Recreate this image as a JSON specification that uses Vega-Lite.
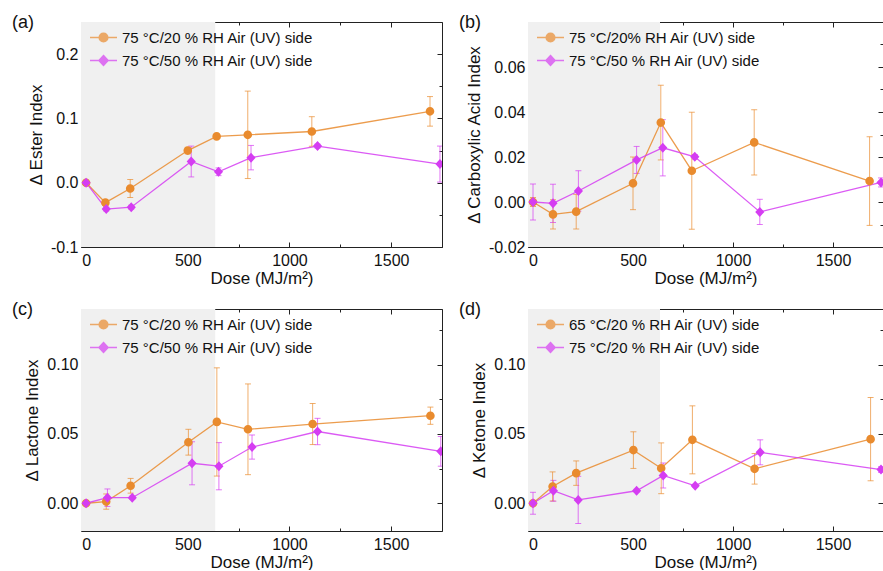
{
  "$schema": "https://vega.github.io/schema/vega-lite/v6.json",
  "padding": {"left": 12, "top": 13, "right": 0, "bottom": 0},
  "background": "white",
  "datasets": {
    "shade": [{"x0": -25, "x1": 635}],
    "a": [
      {"dose": 0, "value": 0, "err": 0, "series": "75 °C/20 % RH Air (UV) side"},
      {"dose": 95, "value": -0.031, "err": 0.004, "series": "75 °C/20 % RH Air (UV) side"},
      {"dose": 217, "value": -0.009, "err": 0.014, "series": "75 °C/20 % RH Air (UV) side"},
      {"dose": 500, "value": 0.05, "err": 0.005, "series": "75 °C/20 % RH Air (UV) side"},
      {"dose": 642, "value": 0.072, "err": 0.003, "series": "75 °C/20 % RH Air (UV) side"},
      {"dose": 795, "value": 0.0745, "err": 0.068, "series": "75 °C/20 % RH Air (UV) side"},
      {"dose": 1110, "value": 0.0797, "err": 0.023, "series": "75 °C/20 % RH Air (UV) side"},
      {"dose": 1691, "value": 0.111, "err": 0.023, "series": "75 °C/20 % RH Air (UV) side"},
      {"dose": 0, "value": 0, "err": 0, "series": "75 °C/50 % RH Air (UV) side"},
      {"dose": 99, "value": -0.041, "err": 0.003, "series": "75 °C/50 % RH Air (UV) side"},
      {"dose": 222, "value": -0.038, "err": 0.003, "series": "75 °C/50 % RH Air (UV) side"},
      {"dose": 517, "value": 0.033, "err": 0.024, "series": "75 °C/50 % RH Air (UV) side"},
      {"dose": 651, "value": 0.017, "err": 0.006, "series": "75 °C/50 % RH Air (UV) side"},
      {"dose": 811, "value": 0.039, "err": 0.019, "series": "75 °C/50 % RH Air (UV) side"},
      {"dose": 1138, "value": 0.057, "err": 0.003, "series": "75 °C/50 % RH Air (UV) side"},
      {"dose": 1740, "value": 0.029, "err": 0.028, "series": "75 °C/50 % RH Air (UV) side"}
    ],
    "b": [
      {"dose": 0, "value": 0, "err": 0.002, "series": "75 °C/20% RH Air (UV) side"},
      {"dose": 100, "value": -0.0055, "err": 0.0065, "series": "75 °C/20% RH Air (UV) side"},
      {"dose": 216, "value": -0.0043, "err": 0.0077, "series": "75 °C/20% RH Air (UV) side"},
      {"dose": 500, "value": 0.0083, "err": 0.0117, "series": "75 °C/20% RH Air (UV) side"},
      {"dose": 639, "value": 0.0353, "err": 0.0166, "series": "75 °C/20% RH Air (UV) side"},
      {"dose": 794, "value": 0.0139, "err": 0.026, "series": "75 °C/20% RH Air (UV) side"},
      {"dose": 1106, "value": 0.0265, "err": 0.0145, "series": "75 °C/20% RH Air (UV) side"},
      {"dose": 1683, "value": 0.0093, "err": 0.0197, "series": "75 °C/20% RH Air (UV) side"},
      {"dose": 0, "value": 0, "err": 0.008, "series": "75 °C/50 % RH Air (UV) side"},
      {"dose": 100, "value": -0.0006, "err": 0.0085, "series": "75 °C/50 % RH Air (UV) side"},
      {"dose": 227, "value": 0.0049, "err": 0.009, "series": "75 °C/50 % RH Air (UV) side"},
      {"dose": 518, "value": 0.0187, "err": 0.006, "series": "75 °C/50 % RH Air (UV) side"},
      {"dose": 649, "value": 0.0241, "err": 0.0125, "series": "75 °C/50 % RH Air (UV) side"},
      {"dose": 809, "value": 0.0201, "err": 0.001, "series": "75 °C/50 % RH Air (UV) side"},
      {"dose": 1134, "value": -0.0044, "err": 0.0056, "series": "75 °C/50 % RH Air (UV) side"},
      {"dose": 1740, "value": 0.0087, "err": 0.002, "series": "75 °C/50 % RH Air (UV) side"}
    ],
    "c": [
      {"dose": 0, "value": 0, "err": 0, "series": "75 °C/20 % RH Air (UV) side"},
      {"dose": 99, "value": 0.0012, "err": 0.0055, "series": "75 °C/20 % RH Air (UV) side"},
      {"dose": 219, "value": 0.0126, "err": 0.0053, "series": "75 °C/20 % RH Air (UV) side"},
      {"dose": 503, "value": 0.044, "err": 0.0093, "series": "75 °C/20 % RH Air (UV) side"},
      {"dose": 643, "value": 0.0586, "err": 0.039, "series": "75 °C/20 % RH Air (UV) side"},
      {"dose": 796, "value": 0.0533, "err": 0.0327, "series": "75 °C/20 % RH Air (UV) side"},
      {"dose": 1114, "value": 0.0571, "err": 0.0148, "series": "75 °C/20 % RH Air (UV) side"},
      {"dose": 1693, "value": 0.0631, "err": 0.0062, "series": "75 °C/20 % RH Air (UV) side"},
      {"dose": 0, "value": 0, "err": 0, "series": "75 °C/50 % RH Air (UV) side"},
      {"dose": 105, "value": 0.004, "err": 0.0063, "series": "75 °C/50 % RH Air (UV) side"},
      {"dose": 227, "value": 0.004, "err": 0.001, "series": "75 °C/50 % RH Air (UV) side"},
      {"dose": 521, "value": 0.0288, "err": 0.0155, "series": "75 °C/50 % RH Air (UV) side"},
      {"dose": 653, "value": 0.0267, "err": 0.017, "series": "75 °C/50 % RH Air (UV) side"},
      {"dose": 816, "value": 0.0405, "err": 0.0087, "series": "75 °C/50 % RH Air (UV) side"},
      {"dose": 1138, "value": 0.0517, "err": 0.0095, "series": "75 °C/50 % RH Air (UV) side"},
      {"dose": 1744, "value": 0.0374, "err": 0.0107, "series": "75 °C/50 % RH Air (UV) side"}
    ],
    "d": [
      {"dose": 0, "value": 0, "err": 0, "series": "65 °C/20 % RH Air (UV) side"},
      {"dose": 98, "value": 0.0121, "err": 0.0105, "series": "65 °C/20 % RH Air (UV) side"},
      {"dose": 216, "value": 0.0217, "err": 0.0088, "series": "65 °C/20 % RH Air (UV) side"},
      {"dose": 502, "value": 0.0383, "err": 0.0132, "series": "65 °C/20 % RH Air (UV) side"},
      {"dose": 641, "value": 0.0252, "err": 0.0183, "series": "65 °C/20 % RH Air (UV) side"},
      {"dose": 797, "value": 0.0457, "err": 0.0245, "series": "65 °C/20 % RH Air (UV) side"},
      {"dose": 1108, "value": 0.0248, "err": 0.011, "series": "65 °C/20 % RH Air (UV) side"},
      {"dose": 1688, "value": 0.0462, "err": 0.03, "series": "65 °C/20 % RH Air (UV) side"},
      {"dose": 0, "value": 0, "err": 0.0079, "series": "75 °C/20 % RH Air (UV) side"},
      {"dose": 102, "value": 0.009, "err": 0.0075, "series": "75 °C/20 % RH Air (UV) side"},
      {"dose": 226, "value": 0.0024, "err": 0.017, "series": "75 °C/20 % RH Air (UV) side"},
      {"dose": 518, "value": 0.009, "err": 0.001, "series": "75 °C/20 % RH Air (UV) side"},
      {"dose": 651, "value": 0.02, "err": 0.009, "series": "75 °C/20 % RH Air (UV) side"},
      {"dose": 811, "value": 0.0126, "err": 0.001, "series": "75 °C/20 % RH Air (UV) side"},
      {"dose": 1136, "value": 0.0367, "err": 0.009, "series": "75 °C/20 % RH Air (UV) side"},
      {"dose": 1740, "value": 0.0243, "err": 0.002, "series": "75 °C/20 % RH Air (UV) side"}
    ]
  },
  "columns": 2,
  "spacing": {"row": 62, "column": 86},
  "bounds": "flush",
  "resolve": {"scale": {"x": "independent", "y": "independent", "color": "independent", "shape": "independent"}, "legend": {"color": "independent", "shape": "independent"}},
  "concat": [
        {
          "width": 361, "height": 225,
          "data": {"name": "a"},
          "title": {"text": "(a)", "anchor": "start", "frame": "group", "dx": -69, "offset": -24, "fontSize": 18, "fontWeight": "normal", "baseline": "alphabetic"},
          "layer": [
            {"data": {"name": "shade"}, "mark": {"type": "rect", "color": "#F0F0F0"},
             "encoding": {"x": {"field": "x0", "type": "quantitative", "scale": {"domain": [-25, 1750], "nice": false}, "axis": null}, "x2": {"field": "x1"}}},
            {"mark": {"type": "errorbar", "ticks": true, "size": 6, "thickness": 1, "opacity": 0.7, "clip": true},
             "encoding": {"x": {"field": "dose", "type": "quantitative", "axis": null},
                          "y": {"field": "value", "type": "quantitative", "scale": {"domain": [-0.1, 0.25], "nice": false, "zero": false}, "axis": null},
                          "yError": {"field": "err"},
                          "color": {"field": "series", "type": "nominal", "scale": {"domain": ["75 °C/20 % RH Air (UV) side", "75 °C/50 % RH Air (UV) side"], "range": ["#E98B2E", "#D53DF2"]}}}},
            {"mark": {"type": "line", "strokeWidth": 1.3, "opacity": 0.85, "clip": true},
             "encoding": {"x": {"field": "dose", "type": "quantitative", "axis": {"orient": "bottom", "values": [0, 250, 500, 750, 1000, 1250, 1500, 1750], "labelExpr": "datum.value % 500 === 0 ? format(datum.value, 'd') : ''", "tickSize": {"condition": {"test": "datum.value % 500 === 0", "value": -5}, "value": -3}, "title": "Dose (MJ/m²)", "labelPadding": 10, "titlePadding": 2}},
                          "y": {"field": "value", "type": "quantitative", "axis": {"orient": "left", "values": [-0.1, -0.05, 0, 0.05, 0.1, 0.15, 0.2], "labelExpr": "abs(round(datum.value*100)) % 10 === 0 ? replace(format(datum.value, '.1f'), '−', '-') : ''", "tickSize": {"condition": {"test": "abs(round(datum.value*100)) % 10 === 0", "value": -5}, "value": -3}, "title": "Δ Ester Index", "labelPadding": 8, "titlePadding": 5}},
                          "color": {"field": "series", "type": "nominal"},
                          "detail": {"field": "series"}}},
            {"mark": {"type": "point", "filled": true, "size": 729, "opacity": 1, "clip": true},
             "encoding": {"x": {"field": "dose", "type": "quantitative", "axis": {"orient": "top", "values": [0, 250, 500, 750, 1000, 1250, 1500, 1750], "labels": false, "title": null, "tickSize": {"condition": {"test": "datum.value % 500 === 0", "value": -5}, "value": -3}}},
                          "y": {"field": "value", "type": "quantitative", "axis": {"orient": "right", "values": [-0.1, -0.05, 0, 0.05, 0.1, 0.15, 0.2], "labels": false, "title": null, "tickSize": {"condition": {"test": "abs(round(datum.value*100)) % 10 === 0", "value": -5}, "value": -3}}},
                          "color": {"field": "series", "type": "nominal", "legend": {"orient": "none", "legendX": 8, "legendY": 1, "title": null, "encode": {"symbols": {"stroke": {"condition": {"test": "datum.index === 0", "value": "#E98B2E"}, "value": "#D53DF2"}, "strokeWidth": {"value": 1.5}}}}},
                          "shape": {"field": "series", "type": "nominal", "scale": {"domain": ["75 °C/20 % RH Air (UV) side", "75 °C/50 % RH Air (UV) side"], "range": ["M-1,0L1,0M0.32,0A0.32,0.32,0,1,1,-0.32,0A0.32,0.32,0,1,1,0.32,0Z", "M-1,0L1,0M0,-0.37L0.34,0L0,0.37L-0.34,0Z"]}, "legend": {"orient": "none", "legendX": 8, "legendY": 1, "title": null, "encode": {"symbols": {"stroke": {"condition": {"test": "datum.index === 0", "value": "#E98B2E"}, "value": "#D53DF2"}, "strokeWidth": {"value": 1.5}}}}}}}
          ],
          "resolve": {"axis": {"x": "independent", "y": "independent"}}
        },
        {
          "width": 355, "height": 225,
          "data": {"name": "b"},
          "title": {"text": "(b)", "anchor": "start", "frame": "group", "dx": -69, "offset": -24, "fontSize": 18, "fontWeight": "normal", "baseline": "alphabetic"},
          "layer": [
            {"data": {"name": "shade"}, "mark": {"type": "rect", "color": "#F0F0F0"},
             "encoding": {"x": {"field": "x0", "type": "quantitative", "scale": {"domain": [-25, 1750], "nice": false}, "axis": null}, "x2": {"field": "x1"}}},
            {"mark": {"type": "errorbar", "ticks": true, "size": 6, "thickness": 1, "opacity": 0.7, "clip": true},
             "encoding": {"x": {"field": "dose", "type": "quantitative", "axis": null},
                          "y": {"field": "value", "type": "quantitative", "scale": {"domain": [-0.02, 0.08], "nice": false, "zero": false}, "axis": null},
                          "yError": {"field": "err"},
                          "color": {"field": "series", "type": "nominal", "scale": {"domain": ["75 °C/20% RH Air (UV) side", "75 °C/50 % RH Air (UV) side"], "range": ["#E98B2E", "#D53DF2"]}}}},
            {"mark": {"type": "line", "strokeWidth": 1.3, "opacity": 0.85, "clip": true},
             "encoding": {"x": {"field": "dose", "type": "quantitative", "axis": {"orient": "bottom", "values": [0, 250, 500, 750, 1000, 1250, 1500, 1750], "labelExpr": "datum.value % 500 === 0 ? format(datum.value, 'd') : ''", "tickSize": {"condition": {"test": "datum.value % 500 === 0", "value": -5}, "value": -3}, "title": "Dose (MJ/m²)", "labelPadding": 10, "titlePadding": 2}},
                          "y": {"field": "value", "type": "quantitative", "axis": {"orient": "left", "values": [-0.02, -0.01, 0, 0.01, 0.02, 0.03, 0.04, 0.05, 0.06, 0.07], "labelExpr": "abs(round(datum.value*1000)) % 20 === 0 ? replace(format(datum.value, '.2f'), '−', '-') : ''", "tickSize": {"condition": {"test": "abs(round(datum.value*1000)) % 20 === 0", "value": -5}, "value": -3}, "title": "Δ Carboxylic Acid Index", "labelPadding": 8, "titlePadding": 5}},
                          "color": {"field": "series", "type": "nominal"},
                          "detail": {"field": "series"}}},
            {"mark": {"type": "point", "filled": true, "size": 729, "opacity": 1, "clip": true},
             "encoding": {"x": {"field": "dose", "type": "quantitative", "axis": {"orient": "top", "values": [0, 250, 500, 750, 1000, 1250, 1500, 1750], "labels": false, "title": null, "tickSize": {"condition": {"test": "datum.value % 500 === 0", "value": -5}, "value": -3}}},
                          "y": {"field": "value", "type": "quantitative", "axis": {"orient": "right", "values": [-0.02, -0.01, 0, 0.01, 0.02, 0.03, 0.04, 0.05, 0.06, 0.07], "labels": false, "title": null, "tickSize": {"condition": {"test": "abs(round(datum.value*1000)) % 20 === 0", "value": -5}, "value": -3}}},
                          "color": {"field": "series", "type": "nominal", "legend": {"orient": "none", "legendX": 8, "legendY": 1, "title": null, "encode": {"symbols": {"stroke": {"condition": {"test": "datum.index === 0", "value": "#E98B2E"}, "value": "#D53DF2"}, "strokeWidth": {"value": 1.5}}}}},
                          "shape": {"field": "series", "type": "nominal", "scale": {"domain": ["75 °C/20% RH Air (UV) side", "75 °C/50 % RH Air (UV) side"], "range": ["M-1,0L1,0M0.32,0A0.32,0.32,0,1,1,-0.32,0A0.32,0.32,0,1,1,0.32,0Z", "M-1,0L1,0M0,-0.37L0.34,0L0,0.37L-0.34,0Z"]}, "legend": {"orient": "none", "legendX": 8, "legendY": 1, "title": null, "encode": {"symbols": {"stroke": {"condition": {"test": "datum.index === 0", "value": "#E98B2E"}, "value": "#D53DF2"}, "strokeWidth": {"value": 1.5}}}}}}}
          ],
          "resolve": {"axis": {"x": "independent", "y": "independent"}}
        },
        {
          "width": 361, "height": 222,
          "data": {"name": "c"},
          "title": {"text": "(c)", "anchor": "start", "frame": "group", "dx": -69, "offset": -24, "fontSize": 18, "fontWeight": "normal", "baseline": "alphabetic"},
          "layer": [
            {"data": {"name": "shade"}, "mark": {"type": "rect", "color": "#F0F0F0"},
             "encoding": {"x": {"field": "x0", "type": "quantitative", "scale": {"domain": [-25, 1750], "nice": false}, "axis": null}, "x2": {"field": "x1"}}},
            {"mark": {"type": "errorbar", "ticks": true, "size": 6, "thickness": 1, "opacity": 0.7, "clip": true},
             "encoding": {"x": {"field": "dose", "type": "quantitative", "axis": null},
                          "y": {"field": "value", "type": "quantitative", "scale": {"domain": [-0.02, 0.14], "nice": false, "zero": false}, "axis": null},
                          "yError": {"field": "err"},
                          "color": {"field": "series", "type": "nominal", "scale": {"domain": ["75 °C/20 % RH Air (UV) side", "75 °C/50 % RH Air (UV) side"], "range": ["#E98B2E", "#D53DF2"]}}}},
            {"mark": {"type": "line", "strokeWidth": 1.3, "opacity": 0.85, "clip": true},
             "encoding": {"x": {"field": "dose", "type": "quantitative", "axis": {"orient": "bottom", "values": [0, 250, 500, 750, 1000, 1250, 1500, 1750], "labelExpr": "datum.value % 500 === 0 ? format(datum.value, 'd') : ''", "tickSize": {"condition": {"test": "datum.value % 500 === 0", "value": -5}, "value": -3}, "title": "Dose (MJ/m²)", "labelPadding": 10, "titlePadding": 2}},
                          "y": {"field": "value", "type": "quantitative", "axis": {"orient": "left", "values": [0, 0.025, 0.05, 0.075, 0.1, 0.125], "labelExpr": "round(datum.value*1000) % 50 === 0 ? format(datum.value, '.2f') : ''", "tickSize": {"condition": {"test": "round(datum.value*1000) % 50 === 0", "value": -5}, "value": -3}, "title": "Δ Lactone Index", "labelPadding": 8, "titlePadding": 5}},
                          "color": {"field": "series", "type": "nominal"},
                          "detail": {"field": "series"}}},
            {"mark": {"type": "point", "filled": true, "size": 729, "opacity": 1, "clip": true},
             "encoding": {"x": {"field": "dose", "type": "quantitative", "axis": {"orient": "top", "values": [0, 250, 500, 750, 1000, 1250, 1500, 1750], "labels": false, "title": null, "tickSize": {"condition": {"test": "datum.value % 500 === 0", "value": -5}, "value": -3}}},
                          "y": {"field": "value", "type": "quantitative", "axis": {"orient": "right", "values": [0, 0.025, 0.05, 0.075, 0.1, 0.125], "labels": false, "title": null, "tickSize": {"condition": {"test": "round(datum.value*1000) % 50 === 0", "value": -5}, "value": -3}}},
                          "color": {"field": "series", "type": "nominal", "legend": {"orient": "none", "legendX": 8, "legendY": 1, "title": null, "encode": {"symbols": {"stroke": {"condition": {"test": "datum.index === 0", "value": "#E98B2E"}, "value": "#D53DF2"}, "strokeWidth": {"value": 1.5}}}}},
                          "shape": {"field": "series", "type": "nominal", "scale": {"domain": ["75 °C/20 % RH Air (UV) side", "75 °C/50 % RH Air (UV) side"], "range": ["M-1,0L1,0M0.32,0A0.32,0.32,0,1,1,-0.32,0A0.32,0.32,0,1,1,0.32,0Z", "M-1,0L1,0M0,-0.37L0.34,0L0,0.37L-0.34,0Z"]}, "legend": {"orient": "none", "legendX": 8, "legendY": 1, "title": null, "encode": {"symbols": {"stroke": {"condition": {"test": "datum.index === 0", "value": "#E98B2E"}, "value": "#D53DF2"}, "strokeWidth": {"value": 1.5}}}}}}}
          ],
          "resolve": {"axis": {"x": "independent", "y": "independent"}}
        },
        {
          "width": 355, "height": 222,
          "data": {"name": "d"},
          "title": {"text": "(d)", "anchor": "start", "frame": "group", "dx": -69, "offset": -24, "fontSize": 18, "fontWeight": "normal", "baseline": "alphabetic"},
          "layer": [
            {"data": {"name": "shade"}, "mark": {"type": "rect", "color": "#F0F0F0"},
             "encoding": {"x": {"field": "x0", "type": "quantitative", "scale": {"domain": [-25, 1750], "nice": false}, "axis": null}, "x2": {"field": "x1"}}},
            {"mark": {"type": "errorbar", "ticks": true, "size": 6, "thickness": 1, "opacity": 0.7, "clip": true},
             "encoding": {"x": {"field": "dose", "type": "quantitative", "axis": null},
                          "y": {"field": "value", "type": "quantitative", "scale": {"domain": [-0.02, 0.14], "nice": false, "zero": false}, "axis": null},
                          "yError": {"field": "err"},
                          "color": {"field": "series", "type": "nominal", "scale": {"domain": ["65 °C/20 % RH Air (UV) side", "75 °C/20 % RH Air (UV) side"], "range": ["#E98B2E", "#D53DF2"]}}}},
            {"mark": {"type": "line", "strokeWidth": 1.3, "opacity": 0.85, "clip": true},
             "encoding": {"x": {"field": "dose", "type": "quantitative", "axis": {"orient": "bottom", "values": [0, 250, 500, 750, 1000, 1250, 1500, 1750], "labelExpr": "datum.value % 500 === 0 ? format(datum.value, 'd') : ''", "tickSize": {"condition": {"test": "datum.value % 500 === 0", "value": -5}, "value": -3}, "title": "Dose (MJ/m²)", "labelPadding": 10, "titlePadding": 2}},
                          "y": {"field": "value", "type": "quantitative", "axis": {"orient": "left", "values": [0, 0.025, 0.05, 0.075, 0.1, 0.125], "labelExpr": "round(datum.value*1000) % 50 === 0 ? format(datum.value, '.2f') : ''", "tickSize": {"condition": {"test": "round(datum.value*1000) % 50 === 0", "value": -5}, "value": -3}, "title": "Δ Ketone Index", "labelPadding": 8, "titlePadding": 5}},
                          "color": {"field": "series", "type": "nominal"},
                          "detail": {"field": "series"}}},
            {"mark": {"type": "point", "filled": true, "size": 729, "opacity": 1, "clip": true},
             "encoding": {"x": {"field": "dose", "type": "quantitative", "axis": {"orient": "top", "values": [0, 250, 500, 750, 1000, 1250, 1500, 1750], "labels": false, "title": null, "tickSize": {"condition": {"test": "datum.value % 500 === 0", "value": -5}, "value": -3}}},
                          "y": {"field": "value", "type": "quantitative", "axis": {"orient": "right", "values": [0, 0.025, 0.05, 0.075, 0.1, 0.125], "labels": false, "title": null, "tickSize": {"condition": {"test": "round(datum.value*1000) % 50 === 0", "value": -5}, "value": -3}}},
                          "color": {"field": "series", "type": "nominal", "legend": {"orient": "none", "legendX": 8, "legendY": 1, "title": null, "encode": {"symbols": {"stroke": {"condition": {"test": "datum.index === 0", "value": "#E98B2E"}, "value": "#D53DF2"}, "strokeWidth": {"value": 1.5}}}}},
                          "shape": {"field": "series", "type": "nominal", "scale": {"domain": ["65 °C/20 % RH Air (UV) side", "75 °C/20 % RH Air (UV) side"], "range": ["M-1,0L1,0M0.32,0A0.32,0.32,0,1,1,-0.32,0A0.32,0.32,0,1,1,0.32,0Z", "M-1,0L1,0M0,-0.37L0.34,0L0,0.37L-0.34,0Z"]}, "legend": {"orient": "none", "legendX": 8, "legendY": 1, "title": null, "encode": {"symbols": {"stroke": {"condition": {"test": "datum.index === 0", "value": "#E98B2E"}, "value": "#D53DF2"}, "strokeWidth": {"value": 1.5}}}}}}}
          ],
          "resolve": {"axis": {"x": "independent", "y": "independent"}}
        }
  ],
  "config": {
    "font": "Liberation Sans",
    "view": {"stroke": null},
    "axis": {"labelFontSize": 16, "titleFontSize": 17, "labelColor": "#111", "titleColor": "#111", "titleFontWeight": "normal", "domainColor": "#222", "tickColor": "#222", "grid": false, "labelFont": "Liberation Sans", "titleFont": "Liberation Sans"},
    "legend": {"labelFontSize": 15, "labelColor": "#111", "labelFont": "Liberation Sans", "symbolSize": 729, "rowPadding": -8, "labelOffset": 4, "padding": 0, "labelLimit": 400},
    "title": {"font": "Liberation Sans", "color": "#111"}
  }
}
